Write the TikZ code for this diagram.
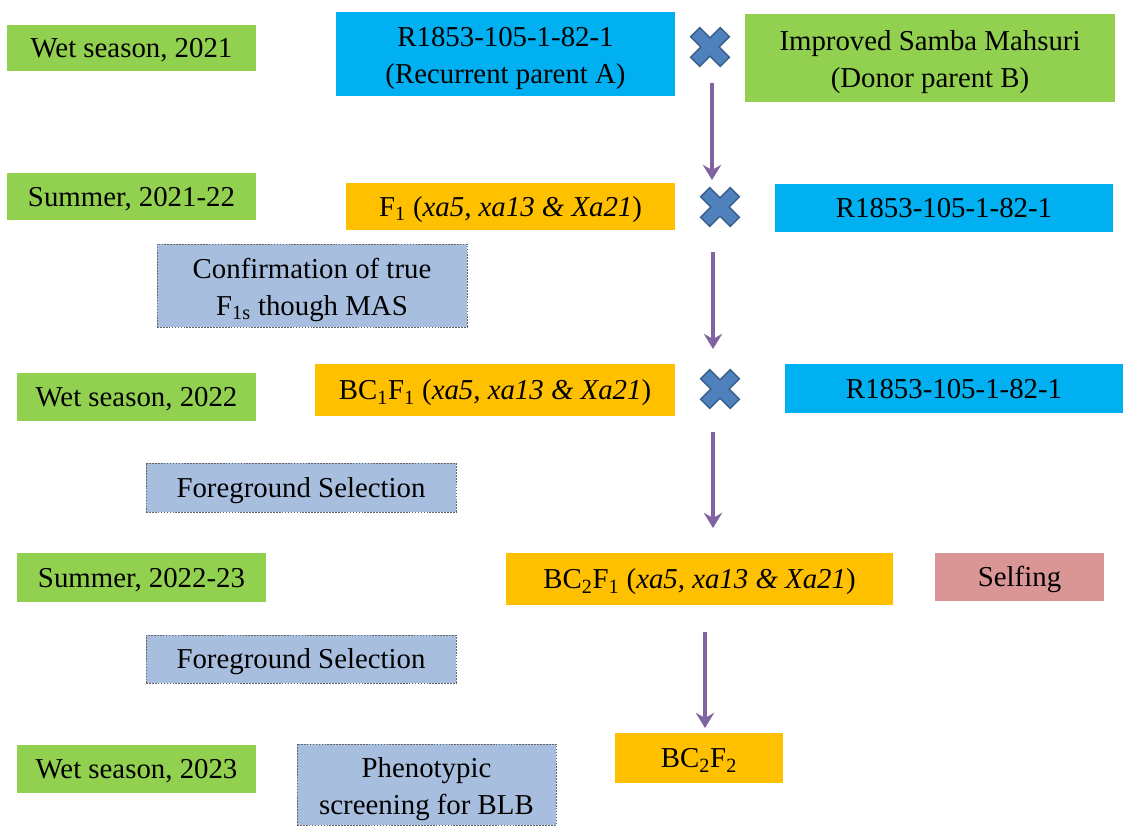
\documentclass[tikz,border=0pt]{standalone}
\usepackage{fontspec}
\setmainfont{Liberation Serif}
\usepackage{xcolor}
\usetikzlibrary{positioning,arrows.meta}

\definecolor{leaf}{RGB}{146,208,80}
\definecolor{sky}{RGB}{0,176,240}
\definecolor{amber}{RGB}{255,192,0}
\definecolor{slate}{RGB}{168,190,222}
\definecolor{rose}{RGB}{217,150,148}
\definecolor{violet}{RGB}{128,100,162}
\definecolor{crossfill}{RGB}{79,129,189}
\definecolor{crossline}{RGB}{56,93,138}
\newcommand{\tstrut}{\rule[-0.22em]{0pt}{1.11em}}

\begin{document}
\begin{tikzpicture}[x=0.025cm, y=-0.025cm, font=\fontsize{20.5}{26.3}\selectfont, every node/.style={align=center},
  box/.style={inner sep=2pt, execute at begin node=\tstrut, execute at end node=\tstrut},
  twoline/.style={execute at begin node=\rule{0pt}{47pt}},
  season/.style={box, fill=leaf},
  parent/.style={box, fill=sky},
  line/.style={box, fill=amber},
  note/.style={box, fill=slate, draw=black!60, dash pattern=on 1.2pt off 0.9pt, line width=0.6pt},
  arr/.style={-{Stealth[length=3.8mm, width=4.6mm, inset=1.3mm]}, line width=2.8pt, draw=violet},
  crossmark/.pic={\filldraw[fill=crossfill, draw=crossline, line width=1pt, rotate=45]
    (-6.5,-21) -- (6.5,-21) -- (6.5,-6.5) -- (21,-6.5) -- (21,6.5) -- (6.5,6.5) -- (6.5,21)
    -- (-6.5,21) -- (-6.5,6.5) -- (-21,6.5) -- (-21,-6.5) -- (-6.5,-6.5) -- cycle;}]
\useasboundingbox (0,0) rectangle (1128,825);
% seasons
\node[season, minimum width=6.225cm, minimum height=1.15cm] (s1) at (131.5,48) {Wet season, 2021};
\node[season, minimum width=6.225cm, minimum height=1.175cm] (s2) at (131.5,196.5) {Summer, 2021-22};
\node[season, minimum width=5.975cm, minimum height=1.2cm] (s3) at (136.5,397) {Wet season, 2022};
\node[season, minimum width=6.225cm, minimum height=1.225cm] (s4) at (141.5,577.5) {Summer, 2022-23};
\node[season, minimum width=5.975cm, minimum height=1.2cm] (s5) at (136.5,769) {Wet season, 2023};
% crosses
\node[parent, twoline, minimum width=8.475cm, minimum height=2.1cm] (pa) at (505.5,54) {R1853-105-1-82-1\\(Recurrent parent A)};
\pic at (710,47) {crossmark};
\node[season, twoline, minimum width=9.25cm, minimum height=2.2cm] (pb) at (930,58) {Improved Samba Mahsuri\\(Donor parent B)};
\node[line, minimum width=8.225cm, minimum height=1.175cm] (f1) at (510.5,206.5) {F\textsubscript{1} (\textit{xa5, xa13 \& Xa21})};
\pic at (720,207) {crossmark};
\node[parent, minimum width=8.45cm, minimum height=1.2cm] (pa2) at (944,208) {R1853-105-1-82-1};
\node[line, minimum width=9cm, minimum height=1.3cm] (bc1) at (495,390) {BC\textsubscript{1}F\textsubscript{1} (\textit{xa5, xa13 \& Xa21})};
\pic at (720,389) {crossmark};
\node[parent, minimum width=8.45cm, minimum height=1.225cm] (pa3) at (954,388.5) {R1853-105-1-82-1};
\node[line, minimum width=9.675cm, minimum height=1.3cm] (bc2) at (699.5,579) {BC\textsubscript{2}F\textsubscript{1} (\textit{xa5, xa13 \& Xa21})};
\node[box, fill=rose, minimum width=4.225cm, minimum height=1.2cm] (self) at (1019.5,577) {Selfing};
\node[line, minimum width=4.2cm, minimum height=1.25cm] (bc2f2) at (699,758) {BC\textsubscript{2}F\textsubscript{2}};
% selection notes
\node[note, twoline, minimum width=7.75cm, minimum height=2.075cm] (mas) at (312,285.5) {Confirmation of true\\F\textsubscript{1s} though MAS};
\node[note, minimum width=7.75cm, minimum height=1.225cm] (fg1) at (301,487.5) {Foreground Selection};
\node[note, minimum width=7.75cm, minimum height=1.2cm] (fg2) at (301,659) {Foreground Selection};
\node[note, twoline, minimum width=6.475cm, minimum height=2.025cm] (pheno) at (426.5,784.5) {Phenotypic\\screening for BLB};
% arrows
\coordinate (a1) at (712,83);  \coordinate (b1) at (712,180);
\coordinate (a2) at (713,252); \coordinate (b2) at (713,349);
\coordinate (a3) at (713,432); \coordinate (b3) at (713,528);
\coordinate (a4) at (705,632); \coordinate (b4) at (705,728);
\draw[arr] (a1) -- (b1);
\draw[arr] (a2) -- (b2);
\draw[arr] (a3) -- (b3);
\draw[arr] (a4) -- (b4);
\end{tikzpicture}
\end{document}
